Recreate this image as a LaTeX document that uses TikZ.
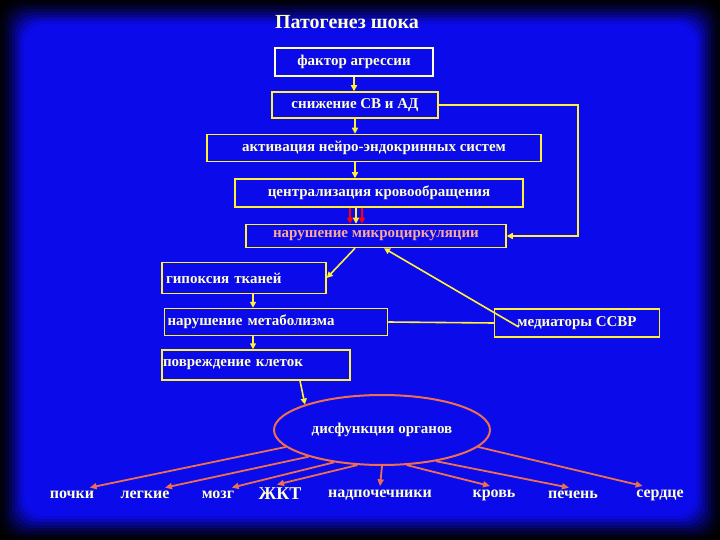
\documentclass[tikz,border=0pt]{standalone}
\usepackage{fontspec}
\setmainfont{Liberation Serif}
\usetikzlibrary{arrows.meta,shapes.geometric}
\definecolor{bg}{RGB}{10,10,235}
\definecolor{yel}{RGB}{255,240,60}
\definecolor{txt}{RGB}{255,255,205}
\definecolor{sal}{RGB}{240,110,80}
\definecolor{pinktxt}{RGB}{250,170,150}
\begin{document}
\begin{tikzpicture}[x=1pt,y=-1pt,
  bx/.style={draw=yel,line width=1.5pt,text=txt,font=\bfseries\fontsize{15}{17}\selectfont,inner sep=0pt,anchor=center},
  ya/.style={draw=yel,line width=1.6pt,-{Triangle[length=6pt,width=6pt]}},
  yl/.style={draw=yel,line width=1.6pt},
  sa/.style={draw=sal,line width=1.8pt,-{Triangle[length=7pt,width=6pt]}},
  lab/.style={text=txt,font=\bfseries\fontsize{16}{18}\selectfont}]
\useasboundingbox (0,0) rectangle (720,540);
\fill[black] (0,0) rectangle (720,540);
\foreach \i/\c in {0/5,3/12,6/22,9/34,12/48,15/62,18/78,21/92}{
  \fill[bg!\c!black,rounded corners=20pt] (\i,\i) rectangle (720-\i,540-\i);}
\fill[bg,rounded corners=20pt] (24,24) rectangle (696,516);
\node[text=txt,font=\bfseries\fontsize{20}{22}\selectfont] (title) at (347,22) {Патогенез шока};
\node[bx,draw=txt,minimum width=158pt,minimum height=28pt] (f) at (354,62) {фактор агрессии};
\node[bx,minimum width=166pt,minimum height=26pt] (s) at (355,105) {снижение СВ и АД};
\node[bx,minimum width=334pt,minimum height=27pt] (a) at (374,148) {активация нейро-эндокринных систем};
\node[bx,minimum width=288pt,minimum height=28pt] (c) at (379,193) {централизация кровообращения};
\node[bx,text=pinktxt,minimum width=260pt,minimum height=23pt] (m) at (376,236) {нарушение микроциркуляции};
\node[bx,minimum width=164pt,minimum height=31pt,text width=156pt,align=left] (g) at (244,278) {гипоксия тканей};
\node[bx,minimum width=223pt,minimum height=27pt,text width=217pt,align=left] (mt) at (276,322) {нарушение метаболизма};
\node[bx,minimum width=165pt,minimum height=28pt] (md) at (577,323) {медиаторы ССВР};
\node[bx,minimum width=188pt,minimum height=30pt,text width=186pt,align=left] (p) at (256,365) {повреждение клеток};
\node[ellipse,draw=sal,line width=2pt,minimum width=216pt,minimum height=70pt,text=txt,font=\bfseries\fontsize{15}{17}\selectfont] (e) at (382,430) {дисфункция органов};
\foreach \n/\x/\t in {l1/72/почки,l2/145/легкие,l3/218/мозг,l5/380/надпочечники,l6/494/кровь,l7/573/печень,l8/660/сердце}
  \node[lab] (\n) at (\x,495) {\t};
\node[lab,font=\bfseries\fontsize{18}{20}\selectfont] (l4) at (280,494) {ЖКТ};
\draw[ya] (f.south) -- (f.south |- s.north);
\draw[ya] (s.south) -- (s.south |- a.north);
\draw[ya] (s.south |- a.south) -- (s.south |- c.north);
\draw[red,line width=1.5pt,-{Triangle[length=6pt,width=6pt]}] ([xshift=-5pt]s.south |- c.south) -- ([xshift=-5pt]s.south |- m.north);
\draw[red,line width=1.5pt,-{Triangle[length=6pt,width=6pt]}] ([xshift=7pt]s.south |- c.south) -- ([xshift=7pt]s.south |- m.north);
\draw[ya] ([xshift=1pt]s.south |- c.south) -- ([xshift=1pt]s.south |- m.north);
\coordinate (r1) at (578,105);
\coordinate (r2) at (578,236);
\draw[ya] (s.east) -- (r1) -- (r2) -- (m.east);
\draw[ya] ([xshift=-21pt]m.south) -- (g.east);
\coordinate (mdw) at ([xshift=25pt,yshift=-4pt]md.west);
\draw[ya] (mdw) -- ([xshift=8pt]m.south);
\draw[yl] (mt.east) -- (md.west);
\draw[ya] (g.south -| 253,0) -- (mt.north -| 253,0);
\draw[ya] (mt.south -| 253,0) -- (p.north -| 253,0);
\draw[ya] ([xshift=44pt]p.south) -- (e.north west);
\draw[sa] (e.190) -- ([xshift=-8pt]l1.north east);
\draw[sa] (e.200) -- ([xshift=-8pt]l2.north east);
\draw[sa] (e.214) -- ([xshift=-6pt]l3.north east);
\draw[sa] (e.235) -- ([xshift=-3pt]l4.north);
\draw[sa] (e.south) -- (l5.north);
\draw[sa] (e.305) -- ([xshift=-4pt]l6.north);
\draw[sa] (e.330) -- ([xshift=-4pt]l7.north);
\draw[sa] (e.350) -- ([xshift=10pt]l8.north west);
\end{tikzpicture}
\end{document}
